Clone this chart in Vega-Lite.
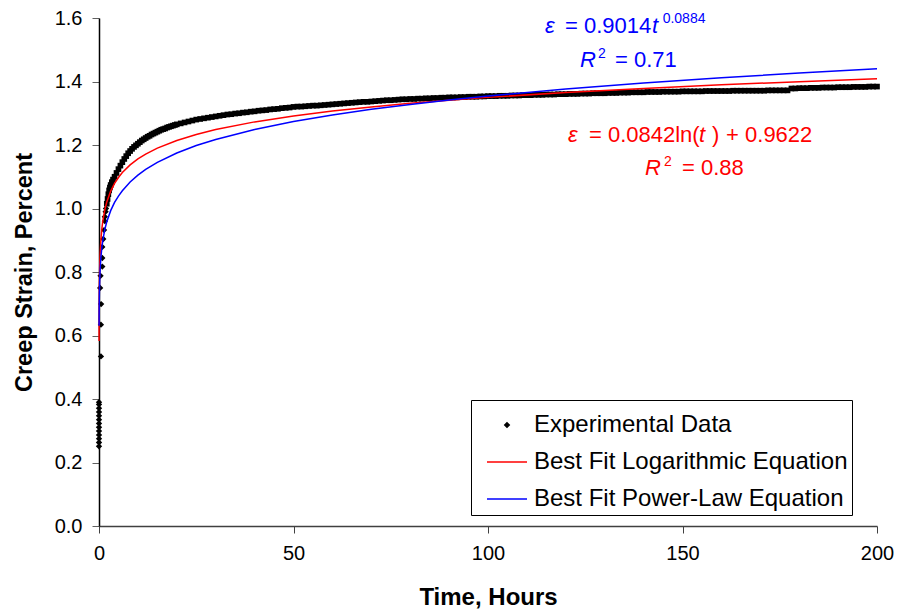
{
  "$schema": "https://vega.github.io/schema/vega-lite/v6.json",
  "width": 778,
  "height": 508,
  "autosize": {"type": "none"},
  "padding": {"left": 99, "top": 18, "right": 22, "bottom": 89},
  "background": "white",
  "config": {
    "font": "Liberation Sans",
    "view": {"stroke": null},
    "axis": {"grid": false, "labelColor": "black", "titleColor": "black", "labelFont": "Liberation Sans", "titleFont": "Liberation Sans"}
  },
  "datasets": {
    "exp": [
      {"t":0,"v":0.251},{"t":0,"v":0.263},{"t":0,"v":0.275},{"t":0,"v":0.287},{"t":0,"v":0.299},{"t":0,"v":0.311},{"t":0,"v":0.323},{"t":0,"v":0.335},{"t":0,"v":0.347},{"t":0,"v":0.359},{"t":0,"v":0.371},{"t":0,"v":0.383},{"t":0,"v":0.39},
      {"t":0.5,"v":0.534},{"t":0.5,"v":0.634},{"t":0.55,"v":0.699},{"t":0.3,"v":0.75},{"t":0.4,"v":0.788},{"t":0.85,"v":0.817},{"t":0.85,"v":0.844},{"t":0.85,"v":0.879},{"t":1.1,"v":0.904},{"t":1.3,"v":0.932},{"t":1.5,"v":0.96},{"t":1.5,"v":0.974},{"t":1.7,"v":0.99},{"t":1.8,"v":1.0},
      {"t":2.0,"v":1.015},{"t":2.2,"v":1.03},{"t":2.4,"v":1.045},{"t":2.6,"v":1.057},{"t":2.8,"v":1.066},{"t":3.0,"v":1.074},{"t":3.3,"v":1.083},{"t":3.6,"v":1.091},{"t":4.0,"v":1.1},{"t":4.5,"v":1.112},
      {"t":5,"v":1.124},{"t":5.5,"v":1.135},{"t":6,"v":1.146},{"t":6.5,"v":1.156},{"t":7,"v":1.165},{"t":7.5,"v":1.174},{"t":8,"v":1.181},{"t":8.5,"v":1.188},{"t":9,"v":1.194},{"t":9.5,"v":1.199},
      {"t":10,"v":1.204},{"t":10.5,"v":1.209},{"t":11,"v":1.214},{"t":11.5,"v":1.218},{"t":12,"v":1.222},{"t":12.5,"v":1.226},{"t":13,"v":1.229},{"t":13.5,"v":1.233},{"t":14,"v":1.236},{"t":14.5,"v":1.239},
      {"t":15,"v":1.242},{"t":15.5,"v":1.245},{"t":16,"v":1.248},{"t":16.5,"v":1.25},{"t":17,"v":1.252},{"t":17.5,"v":1.255},{"t":18,"v":1.257},{"t":18.5,"v":1.259},{"t":19,"v":1.261},{"t":19.5,"v":1.263},{"t":20,"v":1.265},
      {"t":21,"v":1.268},{"t":22,"v":1.271},{"t":23,"v":1.274},{"t":24,"v":1.277},{"t":25,"v":1.28},{"t":26,"v":1.282},{"t":27,"v":1.284},{"t":28,"v":1.286},{"t":29,"v":1.288},{"t":30,"v":1.29},
      {"t":31,"v":1.292},{"t":32,"v":1.294},{"t":33,"v":1.296},{"t":34,"v":1.297},{"t":35,"v":1.299},{"t":36,"v":1.3},{"t":37,"v":1.302},{"t":38,"v":1.303},{"t":39,"v":1.305},{"t":40,"v":1.306},
      {"t":41,"v":1.308},{"t":42,"v":1.309},{"t":43,"v":1.31},{"t":44,"v":1.312},{"t":45,"v":1.313},{"t":46,"v":1.314},{"t":47,"v":1.316},{"t":48,"v":1.317},{"t":49,"v":1.318},{"t":50,"v":1.32},
      {"t":51,"v":1.321},{"t":52,"v":1.321},{"t":53,"v":1.322},{"t":54,"v":1.323},{"t":55,"v":1.324},{"t":56,"v":1.324},{"t":57,"v":1.325},{"t":58,"v":1.326},{"t":59,"v":1.327},{"t":60,"v":1.328},
      {"t":61,"v":1.329},{"t":62,"v":1.33},{"t":63,"v":1.331},{"t":64,"v":1.332},{"t":65,"v":1.333},{"t":66,"v":1.334},{"t":67,"v":1.335},{"t":68,"v":1.336},{"t":69,"v":1.336},{"t":70,"v":1.337},
      {"t":71,"v":1.338},{"t":72,"v":1.339},{"t":73,"v":1.34},{"t":74,"v":1.341},{"t":75,"v":1.341},{"t":76,"v":1.342},{"t":77,"v":1.343},{"t":78,"v":1.344},{"t":79,"v":1.344},{"t":80,"v":1.345},
      {"t":81,"v":1.345},{"t":82,"v":1.346},{"t":83,"v":1.346},{"t":84,"v":1.347},{"t":85,"v":1.347},{"t":86,"v":1.348},{"t":87,"v":1.348},{"t":88,"v":1.349},{"t":89,"v":1.349},{"t":90,"v":1.35},
      {"t":91,"v":1.35},{"t":92,"v":1.35},{"t":93,"v":1.351},{"t":94,"v":1.351},{"t":95,"v":1.352},{"t":96,"v":1.352},{"t":97,"v":1.352},{"t":98,"v":1.353},{"t":99,"v":1.353},{"t":100,"v":1.354},
      {"t":101,"v":1.354},{"t":102,"v":1.354},{"t":103,"v":1.355},{"t":104,"v":1.355},{"t":105,"v":1.355},{"t":106,"v":1.356},{"t":107,"v":1.356},{"t":108,"v":1.356},{"t":109,"v":1.357},{"t":110,"v":1.357},
      {"t":111,"v":1.357},{"t":112,"v":1.358},{"t":113,"v":1.358},{"t":114,"v":1.358},{"t":115,"v":1.359},{"t":116,"v":1.359},{"t":117,"v":1.359},{"t":118,"v":1.36},{"t":119,"v":1.36},{"t":120,"v":1.36},
      {"t":121,"v":1.361},{"t":122,"v":1.361},{"t":123,"v":1.361},{"t":124,"v":1.362},{"t":125,"v":1.362},{"t":126,"v":1.362},{"t":127,"v":1.363},{"t":128,"v":1.363},{"t":129,"v":1.363},{"t":130,"v":1.363},
      {"t":131,"v":1.364},{"t":132,"v":1.364},{"t":133,"v":1.364},{"t":134,"v":1.365},{"t":135,"v":1.365},{"t":136,"v":1.365},{"t":137,"v":1.366},{"t":138,"v":1.366},{"t":139,"v":1.366},{"t":140,"v":1.366},
      {"t":141,"v":1.367},{"t":142,"v":1.367},{"t":143,"v":1.367},{"t":144,"v":1.367},{"t":145,"v":1.368},{"t":146,"v":1.368},{"t":147,"v":1.368},{"t":148,"v":1.368},{"t":149,"v":1.368},{"t":150,"v":1.369},
      {"t":151,"v":1.369},{"t":152,"v":1.369},{"t":153,"v":1.369},{"t":154,"v":1.369},{"t":155,"v":1.369},{"t":156,"v":1.37},{"t":157,"v":1.37},{"t":158,"v":1.37},{"t":159,"v":1.37},{"t":160,"v":1.37},
      {"t":161,"v":1.37},{"t":162,"v":1.37},{"t":163,"v":1.371},{"t":164,"v":1.371},{"t":165,"v":1.371},{"t":166,"v":1.371},{"t":167,"v":1.371},{"t":168,"v":1.371},{"t":169,"v":1.371},{"t":170,"v":1.371},
      {"t":171,"v":1.371},{"t":172,"v":1.372},{"t":173,"v":1.372},{"t":174,"v":1.372},{"t":175,"v":1.372},{"t":176,"v":1.372},{"t":177,"v":1.372},{"t":178,"v":1.378},{"t":179,"v":1.378},{"t":180,"v":1.379},
      {"t":181,"v":1.379},{"t":182,"v":1.379},{"t":183,"v":1.38},{"t":184,"v":1.38},{"t":185,"v":1.38},{"t":186,"v":1.381},{"t":187,"v":1.381},{"t":188,"v":1.381},{"t":189,"v":1.381},{"t":190,"v":1.382},
      {"t":191,"v":1.382},{"t":192,"v":1.382},{"t":193,"v":1.382},{"t":194,"v":1.383},{"t":195,"v":1.383},{"t":196,"v":1.383},{"t":197,"v":1.383},{"t":198,"v":1.384},{"t":199,"v":1.384},{"t":200,"v":1.384}
    ],
    "fits": [
      {"s":"Best Fit Logarithmic Equation","t":0.011,"v":0.5825},
      {"s":"Best Fit Logarithmic Equation","t":0.02,"v":0.6328},
      {"s":"Best Fit Logarithmic Equation","t":0.03,"v":0.6669},
      {"s":"Best Fit Logarithmic Equation","t":0.05,"v":0.71},
      {"s":"Best Fit Logarithmic Equation","t":0.1,"v":0.7683},
      {"s":"Best Fit Logarithmic Equation","t":0.2,"v":0.8267},
      {"s":"Best Fit Logarithmic Equation","t":0.3,"v":0.8608},
      {"s":"Best Fit Logarithmic Equation","t":0.5,"v":0.9038},
      {"s":"Best Fit Logarithmic Equation","t":0.75,"v":0.938},
      {"s":"Best Fit Logarithmic Equation","t":1,"v":0.9622},
      {"s":"Best Fit Logarithmic Equation","t":1.5,"v":0.9963},
      {"s":"Best Fit Logarithmic Equation","t":2,"v":1.0206},
      {"s":"Best Fit Logarithmic Equation","t":3,"v":1.0547},
      {"s":"Best Fit Logarithmic Equation","t":4,"v":1.0789},
      {"s":"Best Fit Logarithmic Equation","t":5,"v":1.0977},
      {"s":"Best Fit Logarithmic Equation","t":6,"v":1.1131},
      {"s":"Best Fit Logarithmic Equation","t":8,"v":1.1373},
      {"s":"Best Fit Logarithmic Equation","t":10,"v":1.1561},
      {"s":"Best Fit Logarithmic Equation","t":12,"v":1.1714},
      {"s":"Best Fit Logarithmic Equation","t":15,"v":1.1902},
      {"s":"Best Fit Logarithmic Equation","t":20,"v":1.2144},
      {"s":"Best Fit Logarithmic Equation","t":25,"v":1.2332},
      {"s":"Best Fit Logarithmic Equation","t":30,"v":1.2486},
      {"s":"Best Fit Logarithmic Equation","t":40,"v":1.2728},
      {"s":"Best Fit Logarithmic Equation","t":50,"v":1.2916},
      {"s":"Best Fit Logarithmic Equation","t":60,"v":1.3069},
      {"s":"Best Fit Logarithmic Equation","t":70,"v":1.3199},
      {"s":"Best Fit Logarithmic Equation","t":80,"v":1.3312},
      {"s":"Best Fit Logarithmic Equation","t":90,"v":1.3411},
      {"s":"Best Fit Logarithmic Equation","t":100,"v":1.35},
      {"s":"Best Fit Logarithmic Equation","t":120,"v":1.3653},
      {"s":"Best Fit Logarithmic Equation","t":140,"v":1.3783},
      {"s":"Best Fit Logarithmic Equation","t":160,"v":1.3895},
      {"s":"Best Fit Logarithmic Equation","t":180,"v":1.3995},
      {"s":"Best Fit Logarithmic Equation","t":200,"v":1.4083},
      {"s":"Best Fit Power-Law Equation","t":0.0175,"v":0.6304},
      {"s":"Best Fit Power-Law Equation","t":0.03,"v":0.6611},
      {"s":"Best Fit Power-Law Equation","t":0.05,"v":0.6917},
      {"s":"Best Fit Power-Law Equation","t":0.1,"v":0.7354},
      {"s":"Best Fit Power-Law Equation","t":0.2,"v":0.7819},
      {"s":"Best Fit Power-Law Equation","t":0.3,"v":0.8104},
      {"s":"Best Fit Power-Law Equation","t":0.5,"v":0.8478},
      {"s":"Best Fit Power-Law Equation","t":0.75,"v":0.8788},
      {"s":"Best Fit Power-Law Equation","t":1,"v":0.9014},
      {"s":"Best Fit Power-Law Equation","t":1.5,"v":0.9343},
      {"s":"Best Fit Power-Law Equation","t":2,"v":0.9584},
      {"s":"Best Fit Power-Law Equation","t":3,"v":0.9933},
      {"s":"Best Fit Power-Law Equation","t":4,"v":1.019},
      {"s":"Best Fit Power-Law Equation","t":5,"v":1.0392},
      {"s":"Best Fit Power-Law Equation","t":6,"v":1.0561},
      {"s":"Best Fit Power-Law Equation","t":8,"v":1.0833},
      {"s":"Best Fit Power-Law Equation","t":10,"v":1.1049},
      {"s":"Best Fit Power-Law Equation","t":12,"v":1.1229},
      {"s":"Best Fit Power-Law Equation","t":15,"v":1.1452},
      {"s":"Best Fit Power-Law Equation","t":20,"v":1.1747},
      {"s":"Best Fit Power-Law Equation","t":25,"v":1.1982},
      {"s":"Best Fit Power-Law Equation","t":30,"v":1.2176},
      {"s":"Best Fit Power-Law Equation","t":40,"v":1.249},
      {"s":"Best Fit Power-Law Equation","t":50,"v":1.2738},
      {"s":"Best Fit Power-Law Equation","t":60,"v":1.2945},
      {"s":"Best Fit Power-Law Equation","t":70,"v":1.3123},
      {"s":"Best Fit Power-Law Equation","t":80,"v":1.3278},
      {"s":"Best Fit Power-Law Equation","t":90,"v":1.3417},
      {"s":"Best Fit Power-Law Equation","t":100,"v":1.3543},
      {"s":"Best Fit Power-Law Equation","t":120,"v":1.3764},
      {"s":"Best Fit Power-Law Equation","t":140,"v":1.3952},
      {"s":"Best Fit Power-Law Equation","t":160,"v":1.4117},
      {"s":"Best Fit Power-Law Equation","t":180,"v":1.4266},
      {"s":"Best Fit Power-Law Equation","t":200,"v":1.4399}
    ],
    "eqNormal": [
      {"s":"Best Fit Power-Law Equation","t":119.79,"v":1.553,"text":"= 0.9014"},
      {"s":"Best Fit Power-Law Equation","t":132.65,"v":1.447,"text":"= 0.71"},
      {"s":"Best Fit Logarithmic Equation","t":125.96,"v":1.21,"text":"= 0.0842ln("},
      {"s":"Best Fit Logarithmic Equation","t":157.6,"v":1.21,"text":")"},
      {"s":"Best Fit Logarithmic Equation","t":161.2,"v":1.21,"text":"+ 0.9622"},
      {"s":"Best Fit Logarithmic Equation","t":149.87,"v":1.106,"text":"= 0.88"}
    ],
    "eqItalic": [
      {"s":"Best Fit Power-Law Equation","t":114.65,"v":1.553,"text":"ε"},
      {"s":"Best Fit Power-Law Equation","t":142.16,"v":1.553,"text":"t"},
      {"s":"Best Fit Power-Law Equation","t":123.65,"v":1.447,"text":"R"},
      {"s":"Best Fit Logarithmic Equation","t":120.57,"v":1.21,"text":"ε"},
      {"s":"Best Fit Logarithmic Equation","t":154.24,"v":1.21,"text":"t"},
      {"s":"Best Fit Logarithmic Equation","t":140.36,"v":1.106,"text":"R"}
    ],
    "eqSup": [
      {"s":"Best Fit Power-Law Equation","t":144.9,"v":1.5845,"text":"0.0884"},
      {"s":"Best Fit Power-Law Equation","t":128.28,"v":1.4743,"text":"2"},
      {"s":"Best Fit Logarithmic Equation","t":145.24,"v":1.1346,"text":"2"}
    ]
  },
  "encoding": {
    "x": {
      "field": "t", "type": "quantitative",
      "scale": {"domain": [0, 200], "nice": false, "zero": false},
      "axis": {"title": "Time, Hours", "values": [0, 50, 100, 150, 200], "labelFontSize": 20, "titleFontSize": 24, "titleFontWeight": "bold", "tickSize": 7, "labelPadding": 10, "titlePadding": 22, "domainColor": "#404040", "tickColor": "#404040", "domainWidth": 1.5, "labelFlush": false, "labelOverlap": false}
    },
    "y": {
      "field": "v", "type": "quantitative",
      "scale": {"domain": [0, 1.6], "nice": false},
      "axis": {"title": "Creep Strain, Percent", "values": [0, 0.2, 0.4, 0.6, 0.8, 1.0, 1.2, 1.4, 1.6], "format": ".1f", "labelFontSize": 20, "titleFontSize": 23.5, "titleFontWeight": "bold", "tickSize": 7, "labelPadding": 10, "titlePadding": 18, "domainColor": "black", "tickColor": "#606060", "domainWidth": 1.5, "labelFlush": false, "labelOverlap": false}
    }
  },
  "layer": [
    {
      "data": {"name": "exp"},
      "transform": [{"filter": "datum.t < 2"}],
      "mark": {"type": "point", "shape": "diamond", "filled": true, "color": "black", "size": 40, "opacity": 1}
    },
    {
      "data": {"name": "exp"},
      "transform": [{"filter": "datum.t >= 2"}],
      "mark": {"type": "point", "shape": "square", "filled": true, "color": "black", "size": 32, "opacity": 1}
    },
    {
      "data": {"name": "fits"},
      "mark": {"type": "line", "strokeWidth": 1.5},
      "encoding": {
        "color": {
          "field": "s", "type": "nominal",
          "scale": {"domain": ["Experimental Data", "Best Fit Logarithmic Equation", "Best Fit Power-Law Equation"], "range": ["black", "#ff0000", "#0000ff"]},
          "legend": {
            "title": null, "orient": "none", "legendX": 372, "legendY": 382,
            "strokeColor": "black", "fillColor": "white", "padding": 4,
            "labelFontSize": 24, "labelFont": "Liberation Sans", "labelColor": "black", "labelLimit": 600,
            "symbolType": "stroke", "symbolSize": 1600, "symbolStrokeWidth": 1.5,
            "rowPadding": 4, "labelOffset": 6, "symbolOffset": 11,
            "encode": {
              "symbols": {
                "update": {
                  "shape": {"signal": "datum.value === 'Experimental Data' ? 'diamond' : 'stroke'"},
                  "size": {"signal": "datum.value === 'Experimental Data' ? 20 : 1600"},
                  "fill": {"signal": "datum.value === 'Experimental Data' ? 'black' : 'transparent'"},
                  "stroke": {"signal": "datum.value === 'Experimental Data' ? 'transparent' : (datum.value === 'Best Fit Logarithmic Equation' ? '#ff0000' : '#0000ff')"},
                  "strokeWidth": {"value": 1.5},
                  "opacity": {"value": 1}
                }
              }
            }
          }
        }
      }
    },
    {
      "data": {"name": "eqNormal"},
      "mark": {"type": "text", "align": "left", "baseline": "alphabetic", "fontSize": 22},
      "encoding": {"text": {"field": "text"}, "color": {"field": "s", "type": "nominal", "legend": null}}
    },
    {
      "data": {"name": "eqItalic"},
      "mark": {"type": "text", "align": "left", "baseline": "alphabetic", "fontSize": 22, "fontStyle": "italic"},
      "encoding": {"text": {"field": "text"}, "color": {"field": "s", "type": "nominal", "legend": null}}
    },
    {
      "data": {"name": "eqSup"},
      "mark": {"type": "text", "align": "left", "baseline": "alphabetic", "fontSize": 14},
      "encoding": {"text": {"field": "text"}, "color": {"field": "s", "type": "nominal", "legend": null}}
    }
  ]
}
